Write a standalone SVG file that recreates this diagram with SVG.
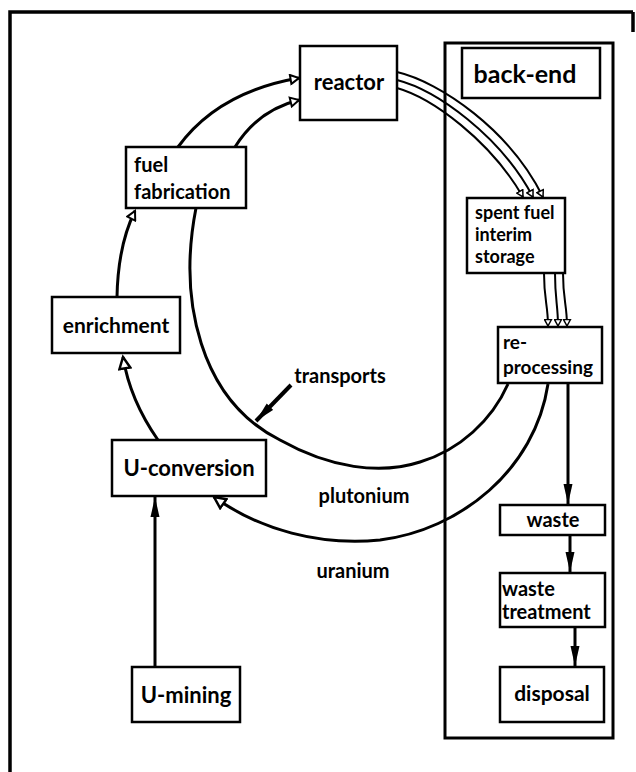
<svg xmlns="http://www.w3.org/2000/svg" width="636" height="772" viewBox="0 0 636 772">
<style>
.box{fill:#fff;stroke:#000;stroke-width:2.5}
.t{font-family:Lato,"Open Sans","Liberation Sans",sans-serif;font-weight:bold;fill:#000}
.c{fill:none;stroke:#000;stroke-width:3}
.thin{fill:none;stroke:#000;stroke-width:2}
</style>
<defs>
<marker id="hollow" markerWidth="16" markerHeight="14" refX="13" refY="7" orient="auto" markerUnits="userSpaceOnUse"><path d="M1.5,1.5 L13,7 L1.5,12.5 z" fill="#fff" stroke="#000" stroke-width="2.5"/></marker>
<marker id="hsmall" markerWidth="12" markerHeight="12" refX="10" refY="6" orient="auto" markerUnits="userSpaceOnUse"><path d="M1.5,1.5 L10,6 L1.5,10.5 z" fill="#fff" stroke="#000" stroke-width="2"/></marker>
<marker id="filled" markerWidth="22" markerHeight="10" refX="20" refY="5" orient="auto" markerUnits="userSpaceOnUse"><path d="M0,0.5 L20,5 L0,9.5 z" fill="#000"/></marker>
<marker id="tiny" markerWidth="9" markerHeight="9" refX="7.5" refY="4.5" orient="auto" markerUnits="userSpaceOnUse"><path d="M1,1 L7.5,4.5 L1,8 z" fill="#fff" stroke="#000" stroke-width="1.5"/></marker>
</defs>

<!-- outer frame -->
<path d="M10,772 L10,12 L633,12 M633,12 L633,32" fill="none" stroke="#000" stroke-width="3.5"/>

<g id="back-end-area">
<rect x="445" y="43" width="168" height="695" fill="none" stroke="#000" stroke-width="3"/>
</g>

<g id="connectors">
<!-- main cycle -->
<path class="c" d="M158,440 Q130,400 123,357" marker-end="url(#hollow)"/>
<path class="c" d="M117,297 Q118,245 135,211" marker-end="url(#hsmall)"/>
<path class="c" d="M178,147 Q218,92 299,78" marker-end="url(#hsmall)"/>
<path class="c" d="M235,147 Q258,110 299,100" marker-end="url(#hsmall)"/>
<!-- reactor to spent fuel -->
<path class="thin" d="M397,72 C440,82 510,130 543,197" marker-end="url(#tiny)"/>
<path class="thin" d="M397,80 C436,90 500,135 533,197" marker-end="url(#tiny)"/>
<path class="thin" d="M397,88 C432,98 490,140 523,197" marker-end="url(#tiny)"/>
<!-- spent fuel to reprocessing -->
<path class="thin" d="M544,273 C544,300 548,305 548,326" marker-end="url(#tiny)"/>
<path class="thin" d="M555,273 C555,300 558,305 558,326" marker-end="url(#tiny)"/>
<path class="thin" d="M563,273 C563,300 567,305 567,326" marker-end="url(#tiny)"/>
<!-- plutonium arc -->
<path class="c" d="M508,384 C492,420 460,450 420,462 C380,475 330,468 280,440 C200,400 178,300 196,208"/>
<!-- transports pointer -->
<path d="M291,385 L256,421" fill="none" stroke="#000" stroke-width="4" marker-end="url(#filled)"/>
<!-- uranium arc -->
<path class="c" d="M548,384 C535,470 460,530 380,540 C320,546 260,530 214,497" marker-end="url(#hollow)"/>
<!-- mining to conversion -->
<path class="c" d="M155,667 L155,497" marker-end="url(#filled)"/>
<!-- back-end chain -->
<path class="c" d="M568,383 L568,504" marker-end="url(#filled)"/>
<path class="c" d="M570,535 L570,572" marker-end="url(#filled)"/>
<path class="c" d="M575,627 L575,666" marker-end="url(#filled)"/>
</g>

<g id="back-end-label">
<rect class="box" x="462" y="48" width="138" height="50"/>
<text class="t" x="525" y="83" font-size="25" text-anchor="middle">back-end</text>
</g>

<g id="reactor">
<rect class="box" x="300" y="46" width="97" height="74"/>
<text class="t" x="349" y="90" font-size="22" text-anchor="middle">reactor</text>
</g>

<g id="fuel-fabrication">
<rect class="box" x="126" y="147" width="120" height="61"/>
<text class="t" x="134" y="172" font-size="20">fuel</text>
<text class="t" x="134" y="199" font-size="20">fabrication</text>
</g>

<g id="enrichment">
<rect class="box" x="52" y="297" width="128" height="56"/>
<text class="t" x="116" y="333" font-size="21" text-anchor="middle">enrichment</text>
</g>

<g id="u-conversion">
<rect class="box" x="112" y="440" width="154" height="56"/>
<text class="t" x="189" y="476" font-size="22" text-anchor="middle">U-conversion</text>
</g>

<g id="u-mining">
<rect class="box" x="132" y="667" width="108" height="55"/>
<text class="t" x="186" y="703" font-size="22" text-anchor="middle">U-mining</text>
</g>

<g id="spent-fuel">
<rect class="box" x="467" y="198" width="98" height="75"/>
<text class="t" x="475" y="219" font-size="18">spent fuel</text>
<text class="t" x="475" y="241" font-size="18">interim</text>
<text class="t" x="475" y="263" font-size="18">storage</text>
</g>

<g id="reprocessing">
<rect class="box" x="498" y="327" width="104" height="56"/>
<text class="t" x="503" y="349" font-size="19">re-</text>
<text class="t" x="503" y="374" font-size="19">processing</text>
</g>

<g id="waste">
<rect class="box" x="500" y="505" width="105" height="30"/>
<text class="t" x="553" y="527" font-size="20" text-anchor="middle">waste</text>
</g>

<g id="waste-treatment">
<rect class="box" x="500" y="573" width="105" height="54"/>
<text class="t" x="502" y="596" font-size="20">waste</text>
<text class="t" x="502" y="619" font-size="20">treatment</text>
</g>

<g id="disposal">
<rect class="box" x="500" y="667" width="104" height="55"/>
<text class="t" x="552" y="701" font-size="21" text-anchor="middle">disposal</text>
</g>

<g id="labels">
<text class="t" x="340" y="383" font-size="20" text-anchor="middle">transports</text>
<text class="t" x="364" y="503" font-size="20" text-anchor="middle">plutonium</text>
<text class="t" x="353" y="578" font-size="20" text-anchor="middle">uranium</text>
</g>
</svg>
